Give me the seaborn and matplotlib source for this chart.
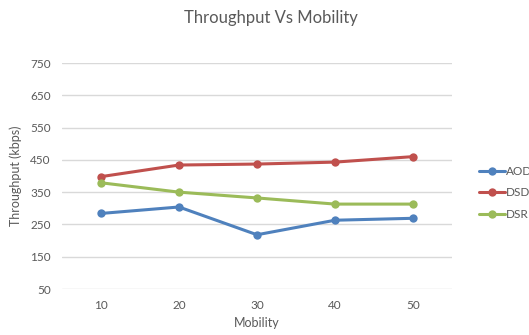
import matplotlib
matplotlib.use("Agg")
import matplotlib.pyplot as plt
import seaborn as sns
import pandas as pd

mobility = ["10", "20", "30", "40", "50"]
aodv = [284, 304, 218, 263, 269]
dsdv = [398, 434, 437, 443, 460]
dsr = [379, 350, 332, 313, 313]
protocols = ["AODV", "DSDV", "DSR"]
colors = ["#4F81BD", "#C0504D", "#9BBB59"]
y_ticks = [50, 150, 250, 350, 450, 550, 650, 750]

sns.set_theme(style="white")
plt.rcParams["font.family"] = ["Lato", "DejaVu Sans"]

rows = []
for name, vals in zip(protocols, [aodv, dsdv, dsr]):
    for m, v in zip(mobility, vals):
        rows.append({"Mobility": m, "Throughput": v, "Protocol": name})
df = pd.DataFrame(rows)

fig = plt.figure(figsize=(5.29, 3.35), dpi=100)
ax = fig.add_axes([62 / 529, 46 / 335, 390 / 529, 226 / 335])

text_color = "#595959"
sns.lineplot(data=df, x="Mobility", y="Throughput", hue="Protocol",
             palette=colors, marker="o", markersize=6, markeredgewidth=0,
             linewidth=2.2, ax=ax, sort=False)

ax.set_xlim(-0.5, 4.5)
ax.set_ylim(50, 750)
ax.set_yticks(y_ticks)
ax.yaxis.grid(True, color="#D9D9D9", linewidth=1)
ax.xaxis.grid(False)
for s in ax.spines.values():
    s.set_visible(False)
ax.tick_params(axis="both", length=0, labelsize=8.5, labelcolor=text_color, pad=8)
ax.set_xlabel("Mobility", fontsize=9, color=text_color, labelpad=4)
ax.set_ylabel("Throughput (kbps)", fontsize=9, color=text_color, labelpad=6)

fig.text(271 / 529, 1 - 18 / 335, "Throughput Vs Mobility", ha="center", va="center",
         fontsize=12, color=text_color)

handles, labels = ax.get_legend_handles_labels()
ax.legend_.remove()
fig.legend(handles, labels, loc="center left", bbox_to_anchor=(468 / 529, 1 - 193 / 335),
           frameon=False, fontsize=8.5, labelcolor=text_color, handlelength=2.2,
           handletextpad=0.1, labelspacing=0.9)

fig.savefig("out.png", dpi=100)
